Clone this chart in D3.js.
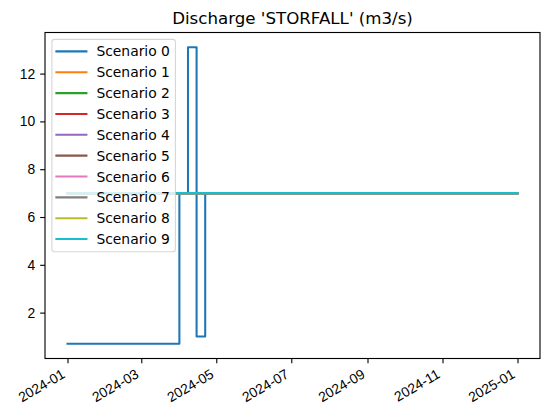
<!DOCTYPE html>
<html>
<head>
<meta charset="utf-8">
<script src="https://cdn.jsdelivr.net/npm/d3@7"></script>
<style>
  html, body { margin: 0; padding: 0; background: #fff; }
  svg { display: block; font-family: "DejaVu Sans", sans-serif; }
</style>
</head>
<body>
<svg id="chart" width="550" height="419"></svg>
<script>
// ---- data ----
const title = "Discharge 'STORFALL' (m3/s)";
const dates = ["2024-01-01", "2024-04-01", "2024-04-08", "2024-04-15", "2024-04-22", "2025-01-01"];
const scenarioNames = ["Scenario 0", "Scenario 1", "Scenario 2", "Scenario 3", "Scenario 4",
                       "Scenario 5", "Scenario 6", "Scenario 7", "Scenario 8", "Scenario 9"];
const scenario0 = [0.7, 7, 13.1, 1.0, 7, 7];
const scenario1 = [7, 7, 7, 7, 7, 7];
const scenario2 = [7, 7, 7, 7, 7, 7];
const scenario3 = [7, 7, 7, 7, 7, 7];
const scenario4 = [7, 7, 7, 7, 7, 7];
const scenario5 = [7, 7, 7, 7, 7, 7];
const scenario6 = [7, 7, 7, 7, 7, 7];
const scenario7 = [7, 7, 7, 7, 7, 7];
const scenario8 = [7, 7, 7, 7, 7, 7];
const scenario9 = [7, 7, 7, 7, 7, 7];
const yTickValues = [2, 4, 6, 8, 10, 12];
const xTickLabels = ["2024-01", "2024-03", "2024-05", "2024-07", "2024-09", "2024-11", "2025-01"];
const colors = ["#1f77b4", "#ff7f0e", "#2ca02c", "#d62728", "#9467bd",
                "#8c564b", "#e377c2", "#7f7f7f", "#bcbd22", "#17becf"];

const allSeries = [scenario0, scenario1, scenario2, scenario3, scenario4,
                   scenario5, scenario6, scenario7, scenario8, scenario9];
const parse = d3.utcParse("%Y-%m-%d");
const parseMonth = d3.utcParse("%Y-%m");
const xDates = dates.map(parse);
const series = allSeries.map((vals, i) => ({
  name: scenarioNames[i], color: colors[i],
  points: vals.map((v, j) => ({ date: xDates[j], value: v }))
}));

// ---- layout ----
const svg = d3.select("#chart");
const L = 45, R = 540, T = 32.5, B = 358.5;
const fs = 13.89;

const xExt = d3.extent(xDates);
const xSpan = xExt[1] - xExt[0];
const x = d3.scaleUtc()
  .domain([new Date(+xExt[0] - 0.05 * xSpan), new Date(+xExt[1] + 0.05 * xSpan)])
  .range([L, R]);
const allVals = allSeries.flat();
const yMin = d3.min(allVals), yMax = d3.max(allVals), ySpan = yMax - yMin;
const y = d3.scaleLinear()
  .domain([yMin - 0.05 * ySpan, yMax + 0.05 * ySpan])
  .range([B, T]);

svg.append("defs").append("clipPath").attr("id", "clip")
  .append("rect").attr("x", L).attr("y", T).attr("width", R - L).attr("height", B - T);

// lines
const line = d3.line().x(d => x(d.date)).y(d => y(d.value)).curve(d3.curveStepAfter);
const gLines = svg.append("g").attr("clip-path", "url(#clip)");
series.forEach(s => {
  gLines.append("path").datum(s.points)
    .attr("d", line)
    .attr("fill", "none")
    .attr("stroke", s.color)
    .attr("stroke-width", 2.08)
    .attr("stroke-linecap", "square")
    .attr("stroke-linejoin", "round");
});

// axes
const xAxis = d3.axisBottom(x)
  .tickValues(xTickLabels.map(parseMonth))
  .tickFormat(d3.utcFormat("%Y-%m"))
  .tickSize(4.86).tickPadding(4.86).tickSizeOuter(0);
const gx = svg.append("g").attr("transform", `translate(0,${B})`).call(xAxis);
gx.select(".domain").remove();
gx.selectAll(".tick line").attr("stroke", "#000").attr("stroke-width", 1.11);
gx.selectAll(".tick text")
  .attr("font-size", fs).attr("fill", "#000")
  .attr("text-anchor", "end")
  .attr("dy", null).attr("y", null)
  .attr("transform", "translate(-2,18.5) rotate(-30)");

const yAxis = d3.axisLeft(y).tickValues(yTickValues).tickFormat(d3.format("d"))
  .tickSize(4.86).tickPadding(4.86).tickSizeOuter(0);
const gy = svg.append("g").attr("transform", `translate(${L},0)`).call(yAxis);
gy.select(".domain").remove();
gy.selectAll(".tick line").attr("stroke", "#000").attr("stroke-width", 1.11);
gy.selectAll(".tick text").attr("font-size", fs).attr("fill", "#000");

// frame
svg.append("rect").attr("x", L).attr("y", T).attr("width", R - L).attr("height", B - T)
  .attr("fill", "none").attr("stroke", "#000").attr("stroke-width", 1.11);

// title
svg.append("text").attr("x", (L + R) / 2).attr("y", T - 9)
  .attr("text-anchor", "middle").attr("font-size", 16.67).attr("fill", "#000")
  .text(title);

// legend
const lgX = 51.9, lgY = 39.4, lgW = 123.5, lgH = 212.3, rowH = 20.85;
const lg = svg.append("g");
lg.append("rect").attr("x", lgX).attr("y", lgY).attr("width", lgW).attr("height", lgH)
  .attr("rx", 2.8).attr("ry", 2.8)
  .attr("fill", "#fff").attr("fill-opacity", 0.8)
  .attr("stroke", "#cccccc").attr("stroke-opacity", 0.8).attr("stroke-width", 1.11);
series.forEach((s, i) => {
  const cy = lgY + 12 + i * rowH;
  lg.append("line").attr("x1", lgX + 4.5).attr("x2", lgX + 34.5)
    .attr("y1", cy).attr("y2", cy)
    .attr("stroke", s.color).attr("stroke-width", 2.08).attr("stroke-linecap", "square");
  lg.append("text").attr("x", lgX + 44.5).attr("y", cy).attr("dy", "0.36em")
    .attr("font-size", fs).attr("fill", "#000").text(s.name);
});
</script>
</body>
</html>
